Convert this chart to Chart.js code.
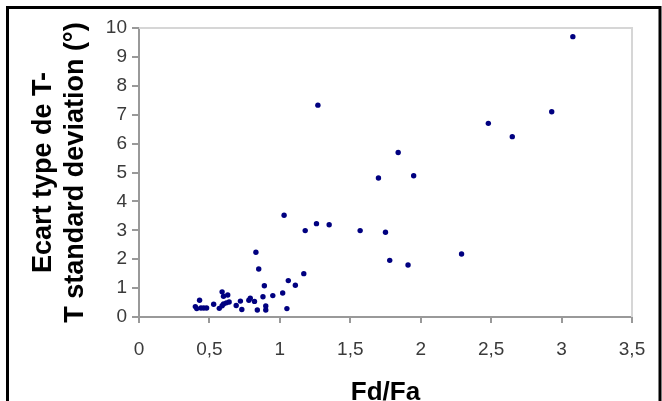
<!DOCTYPE html>
<html>
<head>
<meta charset="utf-8">
<script src="https://cdn.jsdelivr.net/npm/chart.js@4"></script>
<style>
  html, body { margin: 0; padding: 0; background: #fff; }
  #wrap { position: relative; width: 662px; height: 401px; }
</style>
</head>
<body>
<div id="wrap"><canvas id="c" width="662" height="401"></canvas></div>
<script>
const fdFa = [0.40, 0.41, 0.43, 0.44, 0.46, 0.48, 0.53, 0.57, 0.59, 0.60, 0.63, 0.59, 0.60, 0.62, 0.64, 0.69, 0.72, 0.73, 0.78, 0.79, 0.82, 0.83, 0.84, 0.85, 0.88, 0.89, 0.90, 0.90, 0.95, 1.02, 1.03, 1.05, 1.06, 1.11, 1.17, 1.18, 1.26, 1.27, 1.35, 1.57, 1.70, 1.75, 1.78, 1.84, 1.91, 1.95, 2.29, 2.48, 2.65, 2.93, 3.08];
const ecart = [0.36, 0.29, 0.58, 0.31, 0.31, 0.31, 0.44, 0.30, 0.87, 0.72, 0.76, 0.39, 0.45, 0.49, 0.52, 0.40, 0.55, 0.26, 0.58, 0.65, 0.54, 2.24, 0.24, 1.66, 0.70, 1.08, 0.38, 0.24, 0.74, 0.83, 3.52, 0.29, 1.26, 1.10, 1.50, 2.99, 3.23, 7.33, 3.19, 2.99, 4.81, 2.93, 1.96, 5.69, 1.80, 4.89, 2.18, 6.70, 6.24, 7.10, 9.70];
const xTitle = 'Fd/Fa';
const yTitle = ['Ecart type de T-', 'T standard deviation (°)'];
const xMin = 0, xMax = 3.5, xStep = 0.5;
const yMin = 0, yMax = 10, yStep = 1;

const points = fdFa.map((x, i) => ({ x: x, y: ecart[i] }));
const fmt = v => String(Math.round(v * 10) / 10).replace('.', ',');

const frame = {
  id: 'frame',
  afterDraw(chart) {
    const { ctx, chartArea: a } = chart;
    ctx.save();
    ctx.strokeStyle = '#d6d6d6';
    ctx.lineWidth = 2;
    ctx.beginPath();
    ctx.moveTo(a.left, a.top);
    ctx.lineTo(a.right, a.top);
    ctx.lineTo(a.right, a.bottom);
    ctx.stroke();
    ctx.strokeStyle = '#000';
    ctx.lineWidth = 3;
    ctx.beginPath();
    ctx.moveTo(7.5, 401);
    ctx.lineTo(7.5, 7.5);
    ctx.lineTo(660, 7.5);
    ctx.lineTo(660, 401);
    ctx.stroke();
    ctx.restore();
  }
};

new Chart(document.getElementById('c'), {
  type: 'scatter',
  data: {
    datasets: [{
      data: points,
      backgroundColor: '#000080',
      borderColor: '#000080',
      borderWidth: 0,
      pointRadius: 2.7,
      pointStyle: 'circle'
    }]
  },
  options: {
    responsive: false,
    animation: false,
    layout: { padding: { left: 0, top: 28, right: 30, bottom: 0 } },
    plugins: { legend: { display: false }, tooltip: { enabled: false } },
    scales: {
      x: {
        type: 'linear', min: xMin, max: xMax,
        ticks: { stepSize: xStep, padding: 15, color: '#3a3a3a',
          font: { family: 'Liberation Sans, Arial, sans-serif', size: 19 },
          callback: v => fmt(v) },
        grid: { drawOnChartArea: false, drawTicks: true, tickLength: 6, color: '#999', lineWidth: 2 },
        border: { display: true, color: '#999', width: 2 },
        title: { display: true, text: xTitle, color: '#000', padding: { top: 0, bottom: 0 },
          font: { family: 'Liberation Sans, Arial, sans-serif', size: 26, weight: 'bold', lineHeight: 0.65 } },
        afterFit: s => { s.height = 84; }
      },
      y: {
        type: 'linear', min: yMin, max: yMax,
        ticks: { stepSize: yStep, padding: 5, color: '#3a3a3a',
          font: { family: 'Liberation Sans, Arial, sans-serif', size: 19 },
          callback: v => fmt(v) },
        grid: { drawOnChartArea: false, drawTicks: true, tickLength: 7, color: '#999', lineWidth: 2 },
        border: { display: true, color: '#999', width: 2 },
        title: { display: true, text: yTitle, color: '#000', padding: { top: 27, bottom: 0 },
          font: { family: 'Liberation Sans, Arial, sans-serif', size: 27, weight: 'bold', lineHeight: 1.2 } },
        afterFit: s => { s.width = 139; }
      }
    }
  },
  plugins: [frame]
});
</script>
</body>
</html>
